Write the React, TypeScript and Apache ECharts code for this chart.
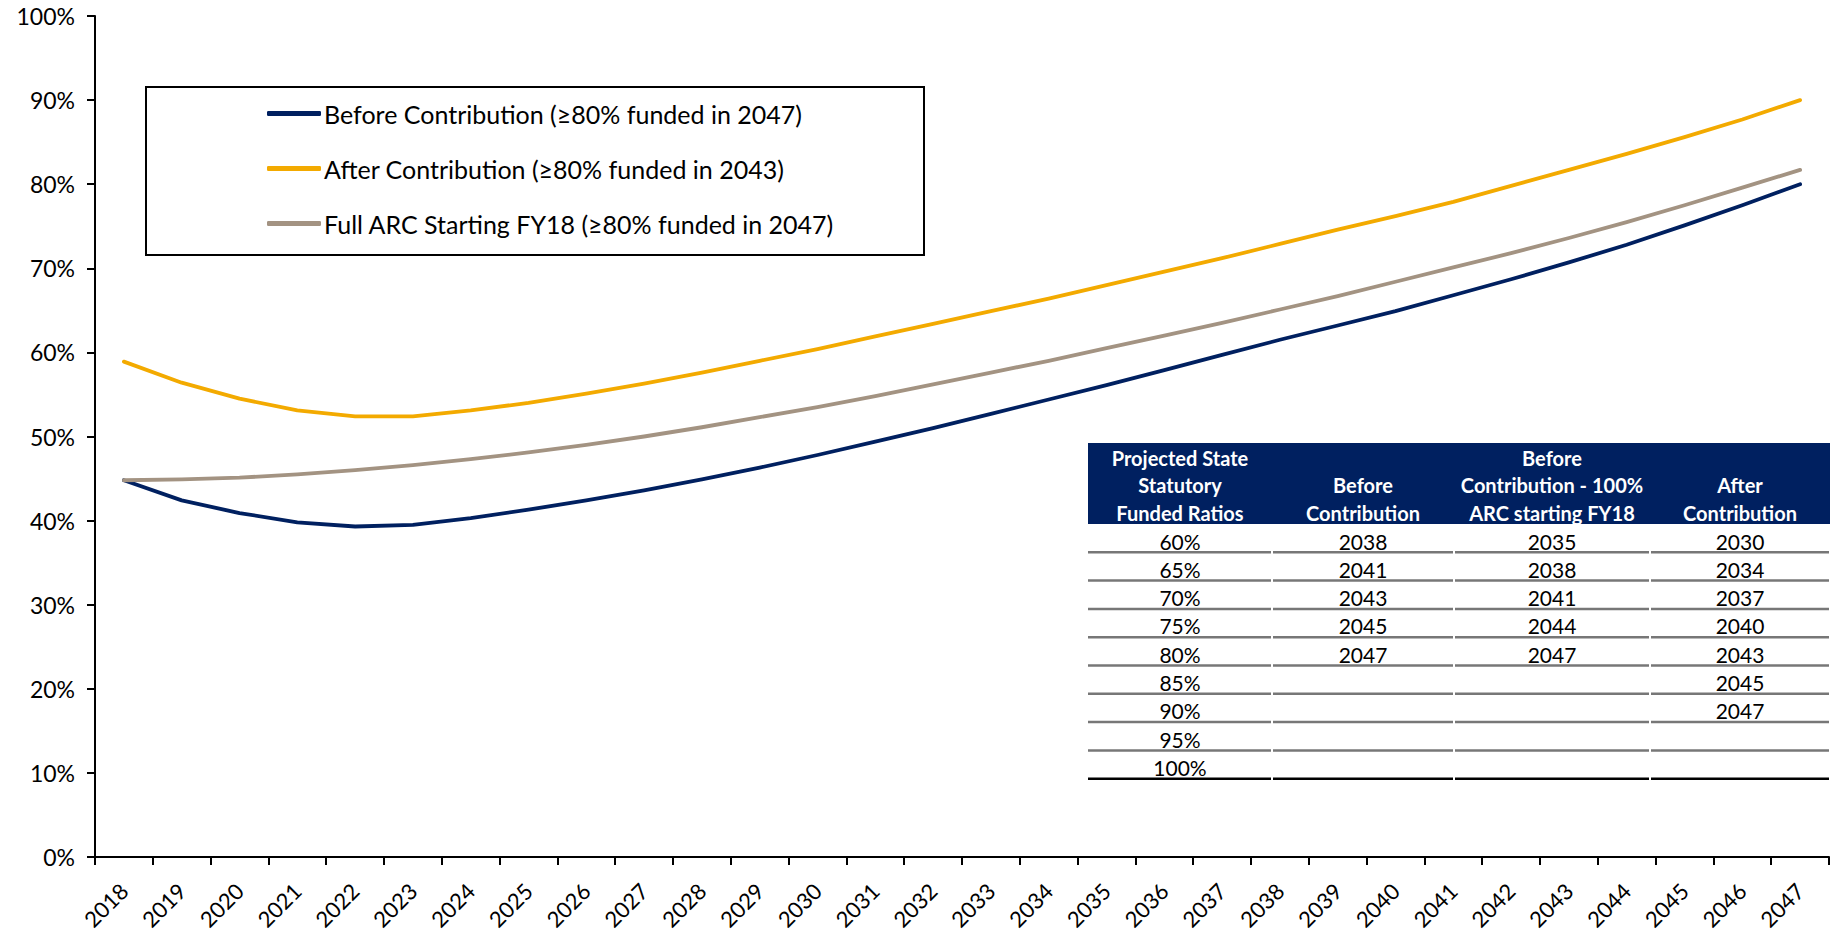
import React, { useEffect, useRef } from "react";
import * as echarts from "echarts";

const years = ["2018","2019","2020","2021","2022","2023","2024","2025","2026","2027","2028","2029","2030","2031","2032","2033","2034","2035","2036","2037","2038","2039","2040","2041","2042","2043","2044","2045","2046","2047"];

const beforeContribution = [44.8, 42.4, 40.9, 39.8, 39.3, 39.5, 40.3, 41.3, 42.4, 43.6, 44.9, 46.3, 47.8, 49.4, 51.0, 52.7, 54.4, 56.1, 57.9, 59.7, 61.5, 63.2, 64.9, 66.8, 68.7, 70.7, 72.8, 75.1, 77.5, 80.0];
const afterContribution = [58.9, 56.4, 54.5, 53.1, 52.4, 52.4, 53.1, 54.0, 55.1, 56.3, 57.6, 59.0, 60.4, 61.9, 63.4, 64.9, 66.4, 68.0, 69.6, 71.2, 72.9, 74.6, 76.2, 77.9, 79.8, 81.7, 83.6, 85.6, 87.7, 90.0];
const fullArc = [44.8, 44.9, 45.1, 45.5, 46.0, 46.6, 47.3, 48.1, 49.0, 50.0, 51.1, 52.3, 53.5, 54.8, 56.2, 57.6, 59.0, 60.5, 62.0, 63.5, 65.1, 66.7, 68.4, 70.1, 71.8, 73.6, 75.5, 77.5, 79.6, 81.7];

const seriesNames = [
  "Before Contribution (≥80% funded in 2047)",
  "After Contribution (≥80% funded in 2043)",
  "Full ARC Starting FY18 (≥80% funded in 2047)",
];
const seriesColors = ["#002060", "#F3AA00", "#A39382"];

const tableHeader = [
  ["Projected State", "Statutory", "Funded Ratios"],
  ["", "Before", "Contribution"],
  ["Before", "Contribution - 100%", "ARC starting FY18"],
  ["", "After", "Contribution"],
];
const tableRatios = ["60%", "65%", "70%", "75%", "80%", "85%", "90%", "95%", "100%"];
const tableBefore = ["2038", "2041", "2043", "2045", "2047", "", "", "", ""];
const tableFullArc = ["2035", "2038", "2041", "2044", "2047", "", "", "", ""];
const tableAfter = ["2030", "2034", "2037", "2040", "2043", "2045", "2047", "", ""];

const FONT = "Lato, 'Open Sans', sans-serif";

function buildTable(): any[] {
  const els: any[] = [];
  const colEdges = [1088, 1272, 1454, 1650, 1830];
  const headTop = 443;
  const headBottom = 524;
  const rowH = 28.3;
  const headLineY = [458, 485, 513];
  els.push({
    type: "rect",
    shape: { x: colEdges[0], y: headTop, width: colEdges[4] - colEdges[0], height: headBottom - headTop },
    style: { fill: "#002060" },
    silent: true,
  });
  for (let c = 0; c < 4; c++) {
    const cx = (colEdges[c] + colEdges[c + 1]) / 2;
    tableHeader[c].forEach((t, i) => {
      if (!t) return;
      els.push({
        type: "text",
        x: cx,
        y: headLineY[i],
        style: { text: t, fill: "#fff", font: `bold 20px ${FONT}`, align: "center", verticalAlign: "middle" },
        silent: true,
      });
    });
  }
  const cols = [tableRatios, tableBefore, tableFullArc, tableAfter];
  for (let r = 0; r < tableRatios.length; r++) {
    const top = headBottom + r * rowH;
    for (let c = 0; c < 4; c++) {
      const cx = (colEdges[c] + colEdges[c + 1]) / 2;
      const t = cols[c][r];
      if (t) {
        els.push({
          type: "text",
          x: cx,
          y: top + 17,
          style: { text: t, fill: "#000", font: `21px ${FONT}`, align: "center", verticalAlign: "middle" },
          silent: true,
        });
      }
      const last = r === tableRatios.length - 1;
      els.push({
        type: "line",
        shape: { x1: colEdges[c] + (c === 0 ? 0 : 1), y1: top + rowH, x2: colEdges[c + 1] - 1, y2: top + rowH },
        style: { stroke: last ? "#000" : "#777777", lineWidth: 2.5 },
        silent: true,
      });
    }
  }
  return els;
}

export default function App() {
  const ref = useRef<HTMLDivElement>(null);
  useEffect(() => {
    if (!ref.current) return;
    const chart = echarts.init(ref.current, null, { renderer: "svg" });
    const dataSets = [beforeContribution, afterContribution, fullArc];
    chart.setOption({
      animation: false,
      backgroundColor: "#fff",
      textStyle: { fontFamily: FONT },
      grid: { left: 95, right: 8, top: 16, bottom: 77, containLabel: false, outerBoundsMode: "none" },
      legend: {
        orient: "vertical",
        left: 262,
        top: 96,
        itemWidth: 54,
        itemHeight: 5,
        itemGap: 30,
        icon: "roundRect",
        selectedMode: false,
        textStyle: { fontSize: 25, color: "#000", fontFamily: FONT, lineHeight: 25, padding: [0, 0, 0, -2] },
        data: seriesNames,
      },
      xAxis: {
        type: "category",
        data: years,
        boundaryGap: true,
        axisLine: { lineStyle: { color: "#000", width: 2 } },
        axisTick: { show: true, length: 8, lineStyle: { color: "#000", width: 2 } },
        axisLabel: { rotate: 45, margin: 30, fontSize: 22, lineHeight: 20, color: "#000", fontFamily: FONT, interval: 0 },
        splitLine: { show: false },
      },
      yAxis: {
        type: "value",
        min: 0,
        max: 100,
        interval: 10,
        axisLine: { show: true, lineStyle: { color: "#000", width: 2 } },
        axisTick: { show: true, length: 8, lineStyle: { color: "#000", width: 2 } },
        axisLabel: { formatter: "{value}%", fontSize: 23, color: "#000", margin: 20, fontFamily: FONT },
        splitLine: { show: false },
      },
      series: seriesNames.map((name, i) => ({
        name,
        type: "line",
        data: dataSets[i],
        symbol: "none",
        smooth: false,
        color: seriesColors[i],
        lineStyle: { color: seriesColors[i], width: 3.8, cap: "round", join: "round" },
      })),
      graphic: [
        {
          type: "rect",
          shape: { x: 146, y: 87, width: 778, height: 168 },
          style: { fill: "none", stroke: "#000", lineWidth: 2 },
          silent: true,
          z: 100,
        },
        ...buildTable(),
      ],
    });
    return () => chart.dispose();
  }, []);
  return <div ref={ref} style={{ position: "fixed", left: 0, top: 0, width: 1837, height: 934 }} />;
}
